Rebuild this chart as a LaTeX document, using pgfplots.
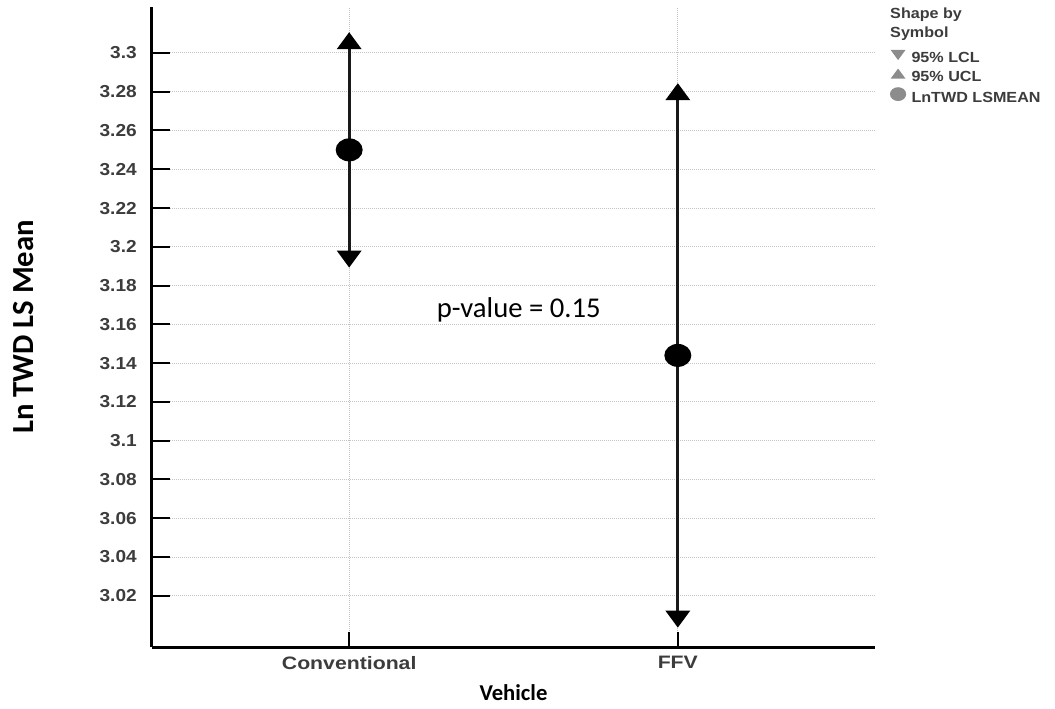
\documentclass[border=0pt]{standalone}
\usepackage{pgfplots}
\pgfplotsset{compat=1.18}
\usepackage{fontspec}
\setmainfont{Carlito}
\newfontfamily\sasfont[FakeStretch=1.1]{Liberation Sans}
\newfontfamily\sasxfont[FakeStretch=1.18]{Liberation Sans}
\definecolor{ticktext}{HTML}{3C3C3C}
\definecolor{gridc}{HTML}{C4C4C4}
\definecolor{leggray}{HTML}{8C8C8C}
\pgfdeclareplotmark{tup}{%
  \pgfpathmoveto{\pgfqpoint{0pt}{6.375pt}}%
  \pgfpathlineto{\pgfqpoint{-9.375pt}{-6.375pt}}%
  \pgfpathlineto{\pgfqpoint{9.375pt}{-6.375pt}}%
  \pgfpathclose\pgfusepathqfill}
\pgfdeclareplotmark{tdown}{%
  \pgfpathmoveto{\pgfqpoint{0pt}{-6.375pt}}%
  \pgfpathlineto{\pgfqpoint{-9.375pt}{6.375pt}}%
  \pgfpathlineto{\pgfqpoint{9.375pt}{6.375pt}}%
  \pgfpathclose\pgfusepathqfill}
\pgfdeclareplotmark{ell}{%
  \pgfpathellipse{\pgfpointorigin}{\pgfqpoint{10.125pt}{0pt}}{\pgfqpoint{0pt}{8.625pt}}%
  \pgfusepathqfill}
\begin{document}
\begin{tikzpicture}
\begin{axis}[
  at={(0,0)}, anchor=south west,
  scale only axis, width=542.25pt, height=480pt,
  xmin=-0.6, xmax=1.6, ymin=2.9936, ymax=3.3237,
  axis lines=left, axis line style={line width=2.25pt, -},
  xtick={0,1}, xticklabels={Conventional,FFV},
  ytick={3.02,3.04,3.06,3.08,3.1,3.12,3.14,3.16,3.18,3.2,3.22,3.24,3.26,3.28,3.3},
  yticklabels={3.02,3.04,3.06,3.08,3.1,3.12,3.14,3.16,3.18,3.2,3.22,3.24,3.26,3.28,3.3},
  tick align=inside, major tick length=13.5pt,
  tick style={line width=1.5pt, black},
  xtick style={/pgfplots/major tick length=11pt},
  grid=major,
  major grid style={gridc, line width=0.75pt, dash pattern=on 0.75pt off 0.75pt},
  yticklabel style={font=\sasfont\bfseries\fontsize{13}{15}\selectfont, text=ticktext, inner sep=0pt, xshift=-11.25pt},
  xticklabel style={font=\sasxfont\bfseries\fontsize{13.5}{15}\selectfont, text=ticktext, inner sep=0pt, yshift=-7pt},
  xlabel={Vehicle}, ylabel={Ln TWD LS Mean},
  xlabel style={at={(axis description cs:0.5,-0.0719)}, anchor=center, font=\bfseries\fontsize{17}{20}\selectfont},
  ylabel style={at={(axis description cs:-0.177,0.5)}, anchor=center, font=\bfseries\fontsize{23}{26}\selectfont},
  clip=false,
  legend style={at={(axis description cs:1.0207,0.933)}, anchor=north west,
    draw=none, fill=none, inner sep=0pt, outer sep=0pt,
    column sep=4pt, row sep=0pt,
    font=\sasfont\bfseries\fontsize{11}{13}\selectfont, text=ticktext,
    cells={anchor=west},
    nodes={inner sep=0pt, text height=8.5pt, text depth=4.25pt}},
  legend image code/.code={\draw[#1] plot coordinates {(5.4pt,3.8pt)};},
]
% confidence interval lines
\addplot[line width=2pt, draw=black!90, forget plot] coordinates {(0,3.1937) (0,3.3063)};
\addplot[line width=2pt, draw=black!90, forget plot] coordinates {(1,3.008) (1,3.280)};
% markers
\addplot[only marks, mark=tdown, black, forget plot] coordinates {(0,3.1937) (1,3.008)};
\addplot[only marks, mark=tup, black, forget plot] coordinates {(0,3.3063) (1,3.280)};
\addplot[only marks, mark=ell, black, forget plot] coordinates {(0,3.25) (1,3.144)};
% legend entries
\addlegendimage{only marks, mark=tdown, leggray, mark options={scale=0.6}}
\addlegendentry{95\% LCL}
\addlegendimage{only marks, mark=tup, leggray, mark options={scale=0.6}}
\addlegendentry{95\% UCL}
\addlegendimage{only marks, mark=ell, leggray, mark options={scale=0.6}}
\addlegendentry{LnTWD LSMEAN}
\node[font=\fontsize{21.5}{24}\selectfont, anchor=center, inner sep=0pt] at (axis cs:0.516,3.1673) {p-value = 0.15};
\node[anchor=north west, inner sep=0pt, align=left, font=\sasfont\bfseries\fontsize{11}{13.9}\selectfont, text=ticktext] at (axis description cs:1.0207,0.9984) {Shape by\\Symbol};
\end{axis}
\pgfresetboundingbox
\path[use as bounding box] (-114pt,-46.5pt) rectangle (677.25pt,485.25pt);
\end{tikzpicture}
\end{document}
